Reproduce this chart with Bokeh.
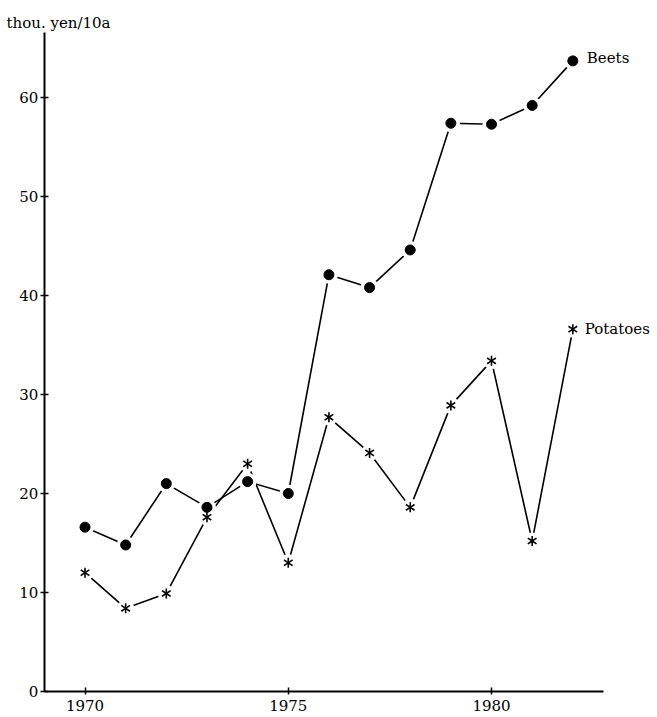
from bokeh.plotting import figure
from bokeh.models import Range1d, Label, FixedTicker
from bokeh.embed import file_html
from bokeh.resources import INLINE
from bokeh.core.properties import value

# ---- data ----
years = [1970, 1971, 1972, 1973, 1974, 1975, 1976, 1977, 1978, 1979, 1980, 1981, 1982]
beets = [16.6, 14.8, 21.0, 18.6, 21.2, 20.0, 42.1, 40.8, 44.6, 57.4, 57.3, 59.2, 63.7]
potatoes = [12.0, 8.4, 9.9, 17.6, 23.0, 13.0, 27.7, 24.1, 18.6, 28.9, 33.4, 15.2, 36.6]
x_ticks = [1970, 1975, 1980]
y_ticks = [0, 10, 20, 30, 40, 50, 60]
unit_label = "thou. yen/10a"
series_names = ["Beets", "Potatoes"]

FONT = "DejaVu Serif"
W, H = 657, 717

p = figure(width=W, height=H, output_backend="svg", toolbar_location=None,
           x_range=Range1d(1967.921, 1984.083), y_range=Range1d(-2.626, 69.80),
           min_border=0, min_border_left=0, min_border_right=0,
           min_border_top=0, min_border_bottom=0)
p.outline_line_color = None
p.grid.visible = False
p.background_fill_color = "white"
p.border_fill_color = "white"

# axes drawn at fixed locations so they take no layout space
for ax in p.xaxis:
    ax.fixed_location = 0
    ax.bounds = (1969.0, 1982.76)
    ax.ticker = FixedTicker(ticks=x_ticks)
    ax.major_tick_in = 4
    ax.major_tick_out = 3
    ax.major_label_standoff = 5
for ax in p.yaxis:
    ax.fixed_location = 1969.0
    ax.bounds = (0, 66.6)
    ax.ticker = FixedTicker(ticks=y_ticks)
    ax.major_tick_in = 4
    ax.major_tick_out = 4
    ax.major_label_standoff = 2
for ax in list(p.xaxis) + list(p.yaxis):
    ax.minor_tick_line_color = None
    ax.axis_line_width = 2
    ax.axis_line_color = "black"
    ax.major_tick_line_color = "black"
    ax.major_tick_line_width = 1.5
    ax.major_label_text_font = FONT
    ax.major_label_text_font_size = "15px"
    ax.major_label_text_color = "black"

# lines
p.line(years, beets, line_color="black", line_width=1.6)
p.line(years, potatoes, line_color="black", line_width=1.6)

# white halos -> small gaps between lines and markers
p.scatter(years, beets, marker="circle", size=18, fill_color="white", line_color=None)
p.scatter(years, potatoes, marker="circle", size=17, fill_color="white", line_color=None)

# markers
p.scatter(years, beets, marker="circle", size=10, fill_color="black", line_color="black")
p.scatter(years, potatoes, marker="y", size=10, line_color="black", line_width=1.6, angle=0)
p.scatter(years, potatoes, marker="y", size=10, line_color="black", line_width=1.6, angle=3.14159265)

# series labels next to the last point
p.text(x=[years[-1]], y=[beets[-1]], text=[series_names[0]], x_offset=14, y_offset=-3,
       text_font=value(FONT), text_font_size="15px", text_color="black",
       text_baseline="middle", text_align="left")
p.text(x=[years[-1]], y=[potatoes[-1]], text=[series_names[1]], x_offset=12, y_offset=0,
       text_font=value(FONT), text_font_size="15px", text_color="black",
       text_baseline="middle", text_align="left")

# unit label at top left
p.add_layout(Label(x=6, y=H - 22, x_units="screen", y_units="screen", text=unit_label,
                   text_font=FONT, text_font_size="15px", text_color="black",
                   text_baseline="alphabetic", text_align="left"))

open("out.html", "w").write(file_html(p, INLINE))
